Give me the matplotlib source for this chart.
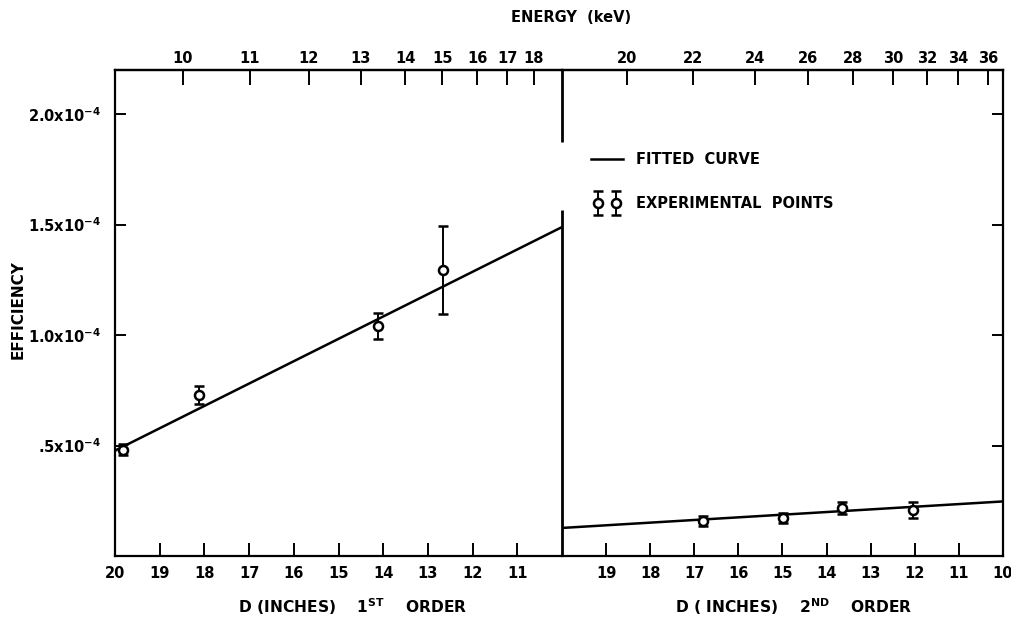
import matplotlib
matplotlib.use("Agg")
import matplotlib.pyplot as plt
from matplotlib.legend_handler import HandlerErrorbar
from matplotlib.lines import Line2D

plt.rcParams['font.family'] = ['DejaVu Sans']
plt.rcParams['font.weight'] = 'bold'
plt.rcParams['mathtext.fontset'] = 'custom'
plt.rcParams['mathtext.rm'] = 'DejaVu Sans:bold'
plt.rcParams['mathtext.it'] = 'DejaVu Sans:bold'
plt.rcParams['mathtext.bf'] = 'DejaVu Sans:bold'

# ---------------- data ----------------
d_ticks_1st = [20, 19, 18, 17, 16, 15, 14, 13, 12, 11]
d_labels_1st = ["20", "19", "18", "17", "16", "15", "14", "13", "12", "11"]
d_ticks_2nd = [19, 18, 17, 16, 15, 14, 13, 12, 11, 10]
d_labels_2nd = ["19", "18", "17", "16", "15", "14", "13", "12", "11", "10"]

energy_labels_1st = ["10", "11", "12", "13", "14", "15", "16", "17", "18"]
energy_d_1st = [18.48, 16.98, 15.66, 14.50, 13.51, 12.68, 11.90, 11.23, 10.63]
energy_labels_2nd = ["20", "22", "24", "26", "28", "30", "32", "34", "36"]
energy_d_2nd = [18.53, 17.03, 15.62, 14.42, 13.40, 12.49, 11.72, 11.02, 10.34]

fit_d = [20, 10]
fit_eff_1st = [0.477e-4, 1.489e-4]
fit_eff_2nd = [0.127e-4, 0.247e-4]

pts_d_1st = [19.82, 18.12, 14.12, 12.66]
pts_eff_1st = [0.48e-4, 0.728e-4, 1.041e-4, 1.294e-4]
pts_err_1st = [0.025e-4, 0.04e-4, 0.057e-4, 0.20e-4]

pts_d_2nd = [16.80, 14.99, 13.65, 12.04]
pts_eff_2nd = [0.158e-4, 0.172e-4, 0.217e-4, 0.208e-4]
pts_err_2nd = [0.023e-4, 0.023e-4, 0.027e-4, 0.036e-4]

y_ticks = [0.5e-4, 1.0e-4, 1.5e-4, 2.0e-4]
y_labels = [r".5x10$^{-4}$", r"1.0x10$^{-4}$", r"1.5x10$^{-4}$", r"2.0x10$^{-4}$"]

# ---------------- figure ----------------
W, H = 1012, 622
fig = plt.figure(figsize=(W / 100, H / 100), dpi=100)
bottom = 1 - 556 / H
height = 486 / H
axL = fig.add_axes([115 / W, bottom, (562 - 115) / W, height])
axR = fig.add_axes([562 / W, bottom, (1003 - 562) / W, height])

FS = 10.5
LW_FRAME = 1.6
err_kw = dict(fmt='o', color='black', mfc='white', mec='black', ms=6.5, mew=1.8,
              elinewidth=1.4, capsize=3.6, capthick=1.4, zorder=5)

for ax in (axL, axR):
    ax.patch.set_visible(False)
    ax.set_xlim(20, 10)
    ax.set_ylim(0, 2.2e-4)
    for s in ax.spines.values():
        s.set_linewidth(LW_FRAME)
    ax.tick_params(axis='x', direction='in', length=9.5, width=1.4, pad=7,
                   labelsize=FS)

axL.spines['right'].set_visible(False)
axR.spines['left'].set_visible(False)

# left panel (1st order)
axL.plot(fit_d, fit_eff_1st, color='black', lw=1.8, solid_capstyle='butt', zorder=3)
axL.errorbar(pts_d_1st, pts_eff_1st, yerr=pts_err_1st, **err_kw)
axL.set_xticks(d_ticks_1st, labels=d_labels_1st)
axL.set_yticks(y_ticks, labels=y_labels)
axL.tick_params(axis='y', direction='in', length=8, width=1.4, pad=10,
                labelsize=FS, right=False)

# right panel (2nd order)
axR.plot(fit_d, fit_eff_2nd, color='black', lw=1.8, solid_capstyle='butt', zorder=3)
cont = axR.errorbar(pts_d_2nd, pts_eff_2nd, yerr=pts_err_2nd, **err_kw)
axR.set_xticks(d_ticks_2nd, labels=d_labels_2nd)
axR.yaxis.tick_right()
axR.set_yticks(y_ticks)
axR.tick_params(axis='y', direction='in', length=8, width=1.4, labelright=False,
                left=False)

# top energy axes
for ax, pos, labs in ((axL, energy_d_1st, energy_labels_1st),
                      (axR, energy_d_2nd, energy_labels_2nd)):
    sec = ax.secondary_xaxis('top')
    sec.set_xticks(pos, labels=labs)
    sec.tick_params(direction='in', length=11, width=1.4, pad=3, labelsize=FS)
    for s in sec.spines.values():
        s.set_linewidth(LW_FRAME)

# partial divider between the two orders
for y0, y1 in ((0, 0.712), (0.852, 1.0)):
    axL.plot([1, 1], [y0, y1], transform=axL.transAxes, color='black',
             lw=2.0, clip_on=False, solid_capstyle='butt', zorder=6)

# legend
line_handle = Line2D([], [], color='black', lw=1.8)
leg = axR.legend([line_handle, cont], ["FITTED  CURVE", "EXPERIMENTAL  POINTS"],
                 loc='upper left', bbox_to_anchor=(587 / W, 1 - 152 / H),
                 bbox_transform=fig.transFigure, frameon=False, numpoints=2,
                 fontsize=FS, handlelength=2.75, handletextpad=0.6,
                 labelspacing=2.0, borderpad=0, borderaxespad=0,
                 handler_map={type(cont): HandlerErrorbar(xerr_size=0.5, yerr_size=0.8,
                                                          marker_pad=0.75)})

# axis titles
fig.text(571 / W, 1 - 18 / H, "ENERGY  (keV)", ha='center', va='center', fontsize=FS)
fig.text(18 / W, 1 - 310 / H, "EFFICIENCY",
         rotation=90, ha='center', va='center', fontsize=11)
fig.text(353 / W, 1 - 607 / H, r"D (INCHES)    1$^{\mathrm{ST}}$    ORDER",
         ha='center', va='center', fontsize=11.2)
fig.text(794 / W, 1 - 607 / H, r"D ( INCHES)    2$^{\mathrm{ND}}$    ORDER",
         ha='center', va='center', fontsize=11.2)

fig.savefig("out.png", dpi=100)
